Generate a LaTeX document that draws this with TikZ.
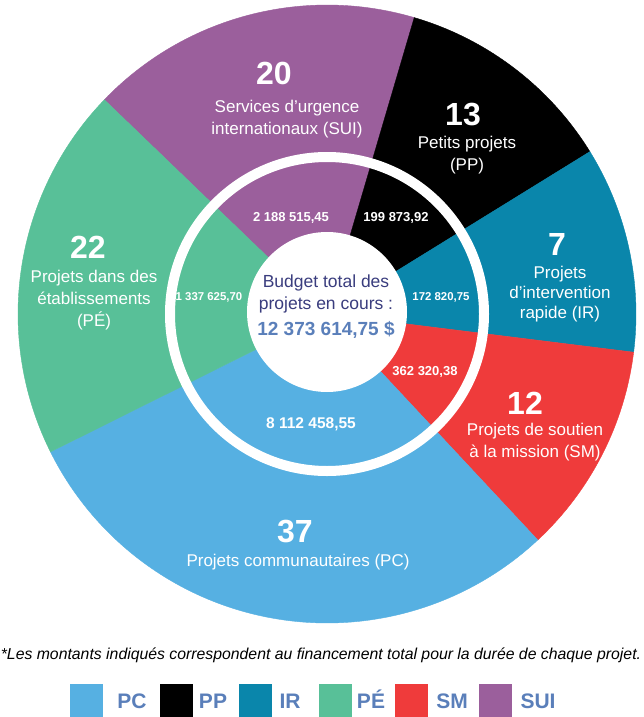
\documentclass[tikz,border=0pt]{standalone}
\usepackage{fontspec}
\setmainfont{Liberation Sans}
\definecolor{pc}{HTML}{56B0E2}
\definecolor{pp}{HTML}{000000}
\definecolor{ir}{HTML}{0A86AB}
\definecolor{pe}{HTML}{58C098}
\definecolor{sm}{HTML}{EF3B3B}
\definecolor{sui}{HTML}{9B5F9C}
\definecolor{navy}{HTML}{3A3D7E}
\definecolor{steel}{HTML}{5A7FBA}
\tikzset{
  lbl/.style={text=white, align=center, inner sep=0pt, font=\fontsize{17}{22}\selectfont},
  num/.style={text=white, inner sep=0pt, font=\bfseries\fontsize{32}{32}\selectfont},
  amt/.style={text=white, inner sep=0pt, font=\bfseries\fontsize{#1}{#1}\selectfont},
  sq/.style={minimum width=33pt, minimum height=33pt, inner sep=0pt, draw=none},
  legtxt/.style={text=steel, inner sep=0pt, anchor=base, font=\bfseries\fontsize{21}{21}\selectfont},
}
\newcommand{\sector}[3]{\fill[#1, draw=#1, line width=0.4pt] (c) -- ++(#2:309pt) arc[start angle=#2, end angle=#3, radius=309pt] -- cycle;}
\begin{document}
\begin{tikzpicture}[x=1pt,y=1pt]
\useasboundingbox (0,0) rectangle (644,-717);
\fill[white] (0,0) rectangle (644,-717);
\coordinate (c) at (327,-314);
% sectors
\sector{sui}{73.6}{136.1}
\sector{pp}{31.7}{73.6}
\sector{ir}{-7.1}{31.7}
\sector{sm}{-47}{-7.1}
\sector{pc}{-153.5}{-47}
\sector{pe}{136.1}{206.5}
% white ring and centre
\draw[white, line width=10pt] (c) circle[radius=157pt];
\fill[white] (327,-312) circle[radius=80pt];
% outer labels
\node[num] (n20) at (274,-73) {20};
\node[lbl] (tsui) at (287,-119) {Services d’urgence\\internationaux (SUI)};
\node[num] (n13) at (463,-115) {13};
\node[lbl] (tpp) at (467,-155) {Petits projets\\(PP)};
\node[num] (n7) at (557,-244) {7};
\node[lbl, font=\fontsize{17}{20}\selectfont] (tir) at (560,-294) {Projets\\d’intervention\\rapide (IR)};
\node[num] (n12) at (525,-403) {12};
\node[lbl] (tsm) at (535,-442) {Projets de soutien\\à la mission (SM)};
\node[num] (n37) at (295,-532) {37};
\node[lbl] (tpc) at (298,-562) {Projets communautaires (PC)};
\node[num] (n22) at (88,-247) {22};
\node[lbl] (tpe) at (94,-300) {Projets dans des\\établissements\\(PÉ)};
% inner amounts
\node[amt=13] (asui) at (291,-218) {2 188 515,45};
\node[amt=13] (app) at (396,-218) {199 873,92};
\node[amt=11.4] (ape) at (209,-297) {1 337 625,70};
\node[amt=11.4] (air) at (441,-297) {172 820,75};
\node[amt=13] (asm) at (425,-372) {362 320,38};
\node[amt=15.5] (apc) at (311,-424) {8 112 458,55};
% centre text
\node[text=navy, align=center, inner sep=0pt, font=\fontsize{17.5}{22.5}\selectfont] (ctr) at (326,-294) {Budget total des\\projets en cours :};
\node[text=steel, inner sep=0pt, font=\bfseries\fontsize{19}{19}\selectfont] (total) at (326,-330) {12 373 614,75 \$};
% footnote
\node[inner sep=0pt, font=\itshape\fontsize{15.8}{15.8}\selectfont] (foot) at (321,-655) {*Les montants indiqués correspondent au financement total pour la durée de chaque projet.};
% legend
\node[sq, fill=pc] (lpc) at (86.5,-700.5) {};
\node[legtxt] (tlpc) at (132,-708) {PC};
\node[sq, fill=pp] (lpp) at (176,-700.5) {};
\node[legtxt] (tlpp) at (213,-708) {PP};
\node[sq, fill=ir] (lir) at (255,-700.5) {};
\node[legtxt] (tlir) at (290,-708) {IR};
\node[sq, fill=pe] (lpe) at (335,-700.5) {};
\node[legtxt] (tlpe) at (371,-708) {PÉ};
\node[sq, fill=sm] (lsm) at (411,-700.5) {};
\node[legtxt] (tlsm) at (452,-708) {SM};
\node[sq, fill=sui] (lsui) at (495,-700.5) {};
\node[legtxt] (tlsui) at (538,-708) {SUI};
\end{tikzpicture}
\end{document}
